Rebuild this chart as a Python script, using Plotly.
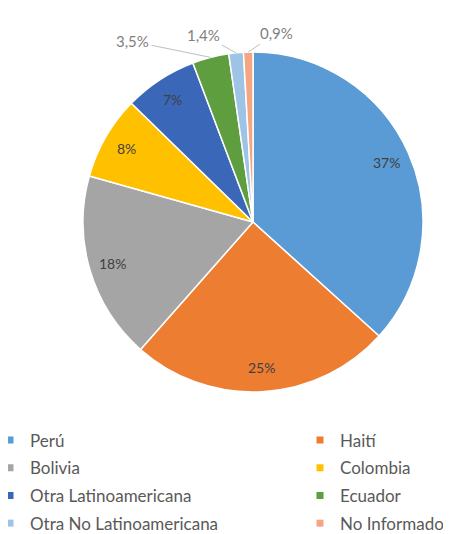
import math
import plotly.graph_objects as go

categories = ["Perú", "Haití", "Bolivia", "Colombia", "Otra Latinoamericana",
              "Ecuador", "Otra No Latinoamericana", "No Informado"]
values = [37, 25, 18, 8, 7, 3.5, 1.4, 0.9]
colors = ["#5B9BD5", "#ED7D31", "#A5A5A5", "#FFC000", "#3B67B9",
          "#5F9E3E", "#9DC3E6", "#F4A582"]
# small slices labelled outside with leader lines (pixel offsets of label)
outside_offsets = {"Ecuador": (-78, -16), "Otra No Latinoamericana": (-33, -18),
                   "No Informado": (28, -19)}

# the page adds an 8px body margin, so the figure is 8px smaller than the window
W, H = 443, 526
PIE_CX, PIE_CY, PIE_R = 245, 214, 170  # figure pixels
dom_x = [(PIE_CX - PIE_R) / W, (PIE_CX + PIE_R) / W]
dom_y = [1 - (PIE_CY + PIE_R) / H, 1 - (PIE_CY - PIE_R) / H]
FONT = "Lato, sans-serif"

fig = go.Figure()
fig.add_trace(go.Pie(
    labels=categories,
    values=values,
    sort=False,
    direction="clockwise",
    rotation=0,
    textinfo="none",
    hoverinfo="label+percent",
    marker=dict(colors=colors, line=dict(color="white", width=1.5)),
    domain=dict(x=dom_x, y=dom_y),
    showlegend=False,
))

# legend entries (two columns, row-major order as in the original)
for i, (cat, col) in enumerate(zip(categories, colors)):
    fig.add_trace(go.Scatter(
        x=[None], y=[None], mode="markers", name=cat,
        marker=dict(symbol="square", size=7, color=col),
        legend="legend" if i % 2 == 0 else "legend2",
        legendgroup=cat, hoverinfo="skip",
    ))

# pie geometry in paper coordinates
cx = (dom_x[0] + dom_x[1]) / 2
cy = (dom_y[0] + dom_y[1]) / 2
R_px = min((dom_x[1] - dom_x[0]) * W, (dom_y[1] - dom_y[0]) * H) / 2

total = sum(values)
cum = 0
annotations = []
for cat, v in zip(categories, values):
    mid = (cum + v / 2) / total * 2 * math.pi
    cum += v
    txt = (f"{v:g}%").replace(".", ",")
    if cat in outside_offsets:
        r = R_px * 1.0
        px = cx + r * math.sin(mid) / W
        py = cy + r * math.cos(mid) / H
        ax, ay = outside_offsets[cat]
        annotations.append(dict(
            x=px, y=py, xref="paper", yref="paper", text=txt,
            showarrow=True, arrowhead=0, arrowwidth=1, arrowcolor="#BFBFBF",
            ax=ax, ay=ay, standoff=0, startstandoff=1,
            font=dict(family=FONT, size=15, color="#7F7F7F"),
        ))
    else:
        r = R_px * 0.86
        px = cx + r * math.sin(mid) / W
        py = cy + r * math.cos(mid) / H
        annotations.append(dict(
            x=px, y=py, xref="paper", yref="paper", text=txt, showarrow=False,
            xanchor="center", yanchor="middle",
            font=dict(family=FONT, size=14, color="#404040"),
        ))

legend_common = dict(
    orientation="v",
    yanchor="top", y=1 - 414.5 / H,
    xanchor="left",
    font=dict(family=FONT, size=17, color="#595959"),
    traceorder="grouped", tracegroupgap=2.6,
    indentation=-15,
    bgcolor="rgba(0,0,0,0)",
)

fig.update_layout(
    width=W, height=H,
    margin=dict(l=0, r=0, t=0, b=0, autoexpand=False),
    paper_bgcolor="white",
    plot_bgcolor="white",
    xaxis=dict(visible=False),
    yaxis=dict(visible=False),
    annotations=annotations,
    legend=dict(x=-3 / W, **legend_common),
    legend2=dict(x=307 / W, **legend_common),
)

fig.write_html("out.html")
